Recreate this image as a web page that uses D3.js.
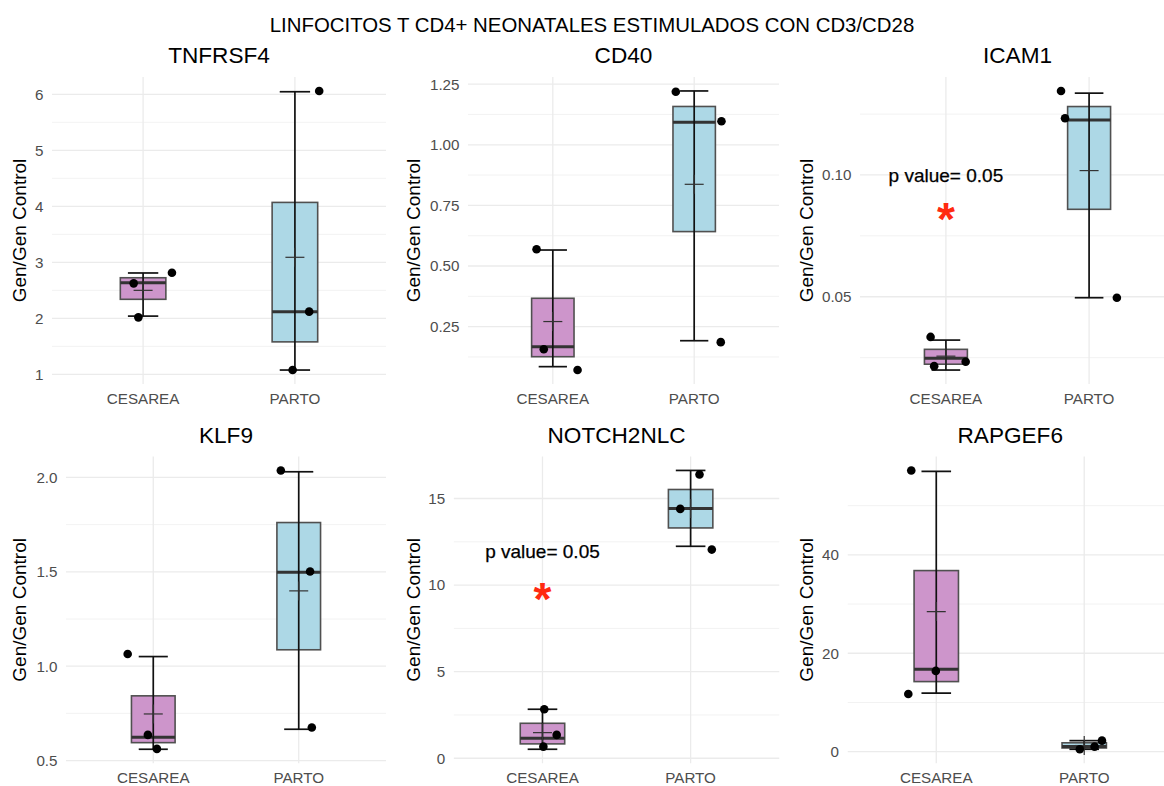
<!DOCTYPE html>
<html>
<head>
<meta charset="utf-8">
<script src="https://cdn.jsdelivr.net/npm/d3@7"></script>
<style>
  body { margin: 0; background: #ffffff; }
  svg { display: block; font-family: "Liberation Sans", Arial, Helvetica, sans-serif; }
</style>
</head>
<body>
<svg id="chart" width="1164" height="786"></svg>
<script>
// ---- data ----
const chartTitle = "LINFOCITOS T CD4+ NEONATALES ESTIMULADOS CON CD3/CD28";
const yAxisTitle = "Gen/Gen Control";
const genes = ["TNFRSF4", "CD40", "ICAM1", "KLF9", "NOTCH2NLC", "RAPGEF6"];
const groups = ["CESAREA", "PARTO"];

// box statistics per group: [lower whisker, Q1, median, Q3, upper whisker, mean]
const statsTNFRSF4  = [[2.04, 2.34, 2.635, 2.725, 2.81, 2.50], [1.077, 1.58, 2.118, 4.07, 6.046, 3.09]];
const statsCD40     = [[0.085, 0.126, 0.167, 0.367, 0.566, 0.271], [0.192, 0.642, 1.093, 1.158, 1.222, 0.837]];
const statsICAM1    = [[0.0199, 0.0223, 0.0247, 0.0284, 0.0322, 0.0256], [0.0496, 0.0859, 0.1226, 0.1281, 0.1336, 0.1018]];
const statsKLF9     = [[0.560, 0.595, 0.624, 0.843, 1.051, 0.747], [0.666, 1.087, 1.498, 1.761, 2.030, 1.399]];
const statsNOTCH2NLC = [[0.52, 0.83, 1.16, 2.02, 2.83, 1.48], [12.24, 13.30, 14.42, 15.52, 16.62, 14.42]];
const statsRAPGEF6  = [[11.88, 14.24, 16.76, 36.8, 56.95, 28.47], [0.49, 0.75, 1.05, 1.8, 2.24, 1.25]];

// individual samples (three per group)
const pointsTNFRSF4  = [[2.625, 2.814, 2.018], [6.06, 2.12, 1.077]];
const pointsCD40     = [[0.569, 0.157, 0.071], [1.219, 1.097, 0.186]];
const pointsICAM1    = [[0.0335, 0.0233, 0.0215], [0.1345, 0.1233, 0.0496]];
const pointsKLF9     = [[1.065, 0.636, 0.562], [2.037, 1.502, 0.675]];
const pointsNOTCH2NLC = [[2.83, 1.35, 0.67], [16.39, 14.40, 12.05]];
const pointsRAPGEF6  = [[57.15, 16.41, 11.73], [2.24, 1.02, 0.49]];

// horizontal jitter of each sample, in category-step units
const jitterTNFRSF4  = [[-0.062, 0.19, -0.031], [0.16, 0.094, -0.015]];
const jitterCD40     = [[-0.115, -0.064, 0.175], [-0.13, 0.193, 0.188]];
const jitterICAM1    = [[-0.107, 0.138, -0.082], [-0.196, -0.168, 0.194]];
const jitterKLF9     = [[-0.176, -0.037, 0.025], [-0.123, 0.078, 0.09]];
const jitterNOTCH2NLC = [[0.012, 0.096, 0.006], [0.06, -0.07, 0.143]];
const jitterRAPGEF6  = [[-0.169, -0.003, -0.189], [0.12, 0.07, -0.03]];

// y axis breaks and their labels
const ticksTNFRSF4  = [1, 2, 3, 4, 5, 6];
const labelsTNFRSF4 = ["1", "2", "3", "4", "5", "6"];
const ticksCD40     = [0.25, 0.5, 0.75, 1.0, 1.25];
const labelsCD40    = ["0.25", "0.50", "0.75", "1.00", "1.25"];
const ticksICAM1    = [0.05, 0.10];
const labelsICAM1   = ["0.05", "0.10"];
const ticksKLF9     = [0.5, 1.0, 1.5, 2.0];
const labelsKLF9    = ["0.5", "1.0", "1.5", "2.0"];
const ticksNOTCH2NLC = [0, 5, 10, 15];
const labelsNOTCH2NLC = ["0", "5", "10", "15"];
const ticksRAPGEF6  = [0, 20, 40];
const labelsRAPGEF6 = ["0", "20", "40"];

// significance notes
const noteGenes = ["ICAM1", "NOTCH2NLC"];
const noteText = "p value= 0.05";
const noteTextY = [0.10, 11.95];
const noteStarY = [0.085, 9.64];

const statsList  = [statsTNFRSF4, statsCD40, statsICAM1, statsKLF9, statsNOTCH2NLC, statsRAPGEF6];
const pointsList = [pointsTNFRSF4, pointsCD40, pointsICAM1, pointsKLF9, pointsNOTCH2NLC, pointsRAPGEF6];
const jitterList = [jitterTNFRSF4, jitterCD40, jitterICAM1, jitterKLF9, jitterNOTCH2NLC, jitterRAPGEF6];
const ticksList  = [ticksTNFRSF4, ticksCD40, ticksICAM1, ticksKLF9, ticksNOTCH2NLC, ticksRAPGEF6];
const labelsList = [labelsTNFRSF4, labelsCD40, labelsICAM1, labelsKLF9, labelsNOTCH2NLC, labelsRAPGEF6];

// ---- layout ----
const frames = [
  { x0: 52,    x1: 386,    y0: 77,    y1: 384,   yTitleX: 19.5 },
  { x0: 468,   x1: 779,    y0: 77,    y1: 384,   yTitleX: 413.5 },
  { x0: 860,   x1: 1175,   y0: 77,    y1: 384,   yTitleX: 806 },
  { x0: 66,    x1: 386,    y0: 456.5, y1: 763.2, yTitleX: 19.5 },
  { x0: 453.6, x1: 779.5,  y0: 456.5, y1: 763.2, yTitleX: 413.5 },
  { x0: 847.5, x1: 1173,   y0: 456.5, y1: 763.2, yTitleX: 806 }
];
const fills = { CESAREA: "#CD95CB", PARTO: "#ADD8E6" };
const gridColor = "#EBEBEB";

const svg = d3.select("#chart");

svg.append("text")
  .attr("x", 592).attr("y", 32.3)
  .attr("text-anchor", "middle")
  .attr("font-size", 20.4)
  .attr("fill", "#000")
  .text(chartTitle);

genes.forEach((gene, i) => {
  const f = frames[i];
  const stats = statsList[i], pts = pointsList[i], jit = jitterList[i];
  const ticks = ticksList[i], tickLabels = labelsList[i];

  // continuous y scale with 5% expansion around everything drawn
  const allVals = stats.flat().concat(pts.flat());
  const [lo, hi] = d3.extent(allVals);
  const pad = (hi - lo) * 0.05;
  const y = d3.scaleLinear().domain([lo - pad, hi + pad]).range([f.y1, f.y0]);
  const x = d3.scalePoint().domain(groups).range([f.x0, f.x1]).padding(0.6);
  const step = x.step();

  const g = svg.append("g");
  const clipId = "clip" + i;
  g.append("clipPath").attr("id", clipId)
    .append("rect").attr("x", f.x0).attr("y", 0).attr("width", f.x1 - f.x0).attr("height", 786);

  // minor breaks: midpoints between majors, plus one beyond each end if inside limits
  const stepT = ticks.length > 1 ? ticks[1] - ticks[0] : 1;
  const minor = [];
  for (let k = -1; k < ticks.length; k++) {
    const m = (k < 0 ? ticks[0] - stepT : ticks[k]) + stepT / 2;
    if (m >= y.domain()[0] && m <= y.domain()[1]) minor.push(m);
  }
  const grid = g.append("g").attr("clip-path", `url(#${clipId})`);
  grid.selectAll("line.minor").data(minor).join("line")
    .attr("x1", f.x0).attr("x2", f.x1)
    .attr("y1", d => y(d)).attr("y2", d => y(d))
    .attr("stroke", "#F1F1F1").attr("stroke-width", 0.9);
  grid.selectAll("line.major").data(ticks).join("line")
    .attr("x1", f.x0).attr("x2", f.x1)
    .attr("y1", d => y(d)).attr("y2", d => y(d))
    .attr("stroke", gridColor).attr("stroke-width", 1.3);
  grid.selectAll("line.vert").data(groups).join("line")
    .attr("x1", d => x(d)).attr("x2", d => x(d))
    .attr("y1", f.y0).attr("y2", f.y1)
    .attr("stroke", gridColor).attr("stroke-width", 1.3);

  // y tick labels
  g.selectAll("text.ytick").data(ticks).join("text")
    .attr("x", f.x0 - 8.5).attr("y", d => y(d) + 5.4)
    .attr("text-anchor", "end").attr("font-size", 15.2).attr("fill", "#4D4D4D")
    .text((d, k) => tickLabels[k]);

  // x category labels
  g.selectAll("text.xtick").data(groups).join("text")
    .attr("x", d => x(d)).attr("y", f.y1 + 19.5)
    .attr("text-anchor", "middle").attr("font-size", 15.2).attr("fill", "#4D4D4D")
    .text(d => d);

  // axis title
  g.append("text")
    .attr("transform", `translate(${f.yTitleX + 6.5},${(f.y0 + f.y1) / 2}) rotate(-90)`)
    .attr("text-anchor", "middle").attr("font-size", 19).attr("fill", "#000")
    .text(yAxisTitle);

  // panel title
  g.append("text")
    .attr("x", (f.x0 + f.x1) / 2).attr("y", f.y0 - 13.8)
    .attr("text-anchor", "middle").attr("font-size", 22.6).attr("fill", "#000")
    .text(gene);

  const marks = g.append("g").attr("clip-path", `url(#${clipId})`);
  groups.forEach((grp, j) => {
    const [wLo, q1, med, q3, wHi, mean] = stats[j];
    const cx = x(grp);
    const boxW = step * 0.3, capW = step * 0.2;

    // box
    marks.append("rect")
      .attr("x", cx - boxW / 2).attr("width", boxW)
      .attr("y", y(q3)).attr("height", y(q1) - y(q3))
      .attr("fill", fills[grp]).attr("stroke", "#505050").attr("stroke-width", 1.6);
    // median
    marks.append("line")
      .attr("x1", cx - boxW / 2).attr("x2", cx + boxW / 2)
      .attr("y1", y(med)).attr("y2", y(med))
      .attr("stroke", "#333").attr("stroke-width", 3);
    // error bar (whiskers with caps)
    marks.append("line")
      .attr("x1", cx).attr("x2", cx).attr("y1", y(wLo)).attr("y2", y(wHi))
      .attr("stroke", "#111").attr("stroke-width", 1.7);
    [wLo, wHi].forEach(v => {
      marks.append("line")
        .attr("x1", cx - capW / 2).attr("x2", cx + capW / 2)
        .attr("y1", y(v)).attr("y2", y(v))
        .attr("stroke", "#111").attr("stroke-width", 1.7);
    });
    // mean marker (+)
    marks.append("line")
      .attr("x1", cx - 9.5).attr("x2", cx + 9.5).attr("y1", y(mean)).attr("y2", y(mean))
      .attr("stroke", "#333").attr("stroke-width", 1.2);
    marks.append("line")
      .attr("x1", cx).attr("x2", cx).attr("y1", y(mean) - 9.5).attr("y2", y(mean) + 9.5)
      .attr("stroke", "#333").attr("stroke-width", 1.2);
    // samples
    marks.selectAll(null).data(pts[j]).join("circle")
      .attr("cx", (d, k) => cx + jit[j][k] * step)
      .attr("cy", d => y(d))
      .attr("r", 4.3).attr("fill", "#000");
  });

  // significance note
  const n = noteGenes.indexOf(gene);
  if (n >= 0) {
    const cx = x(groups[0]);
    g.append("text")
      .attr("x", cx).attr("y", y(noteTextY[n]) + 6.6)
      .attr("text-anchor", "middle").attr("font-size", 19).attr("fill", "#000")
      .attr("stroke", "#000").attr("stroke-width", 0.25)
      .text(noteText);
    g.append("text")
      .attr("x", cx).attr("y", y(noteStarY[n]) + 23.5)
      .attr("text-anchor", "middle").attr("font-size", 46).attr("font-weight", "bold")
      .attr("fill", "#FF2A10")
      .text("*");
  }
});
</script>
</body>
</html>
